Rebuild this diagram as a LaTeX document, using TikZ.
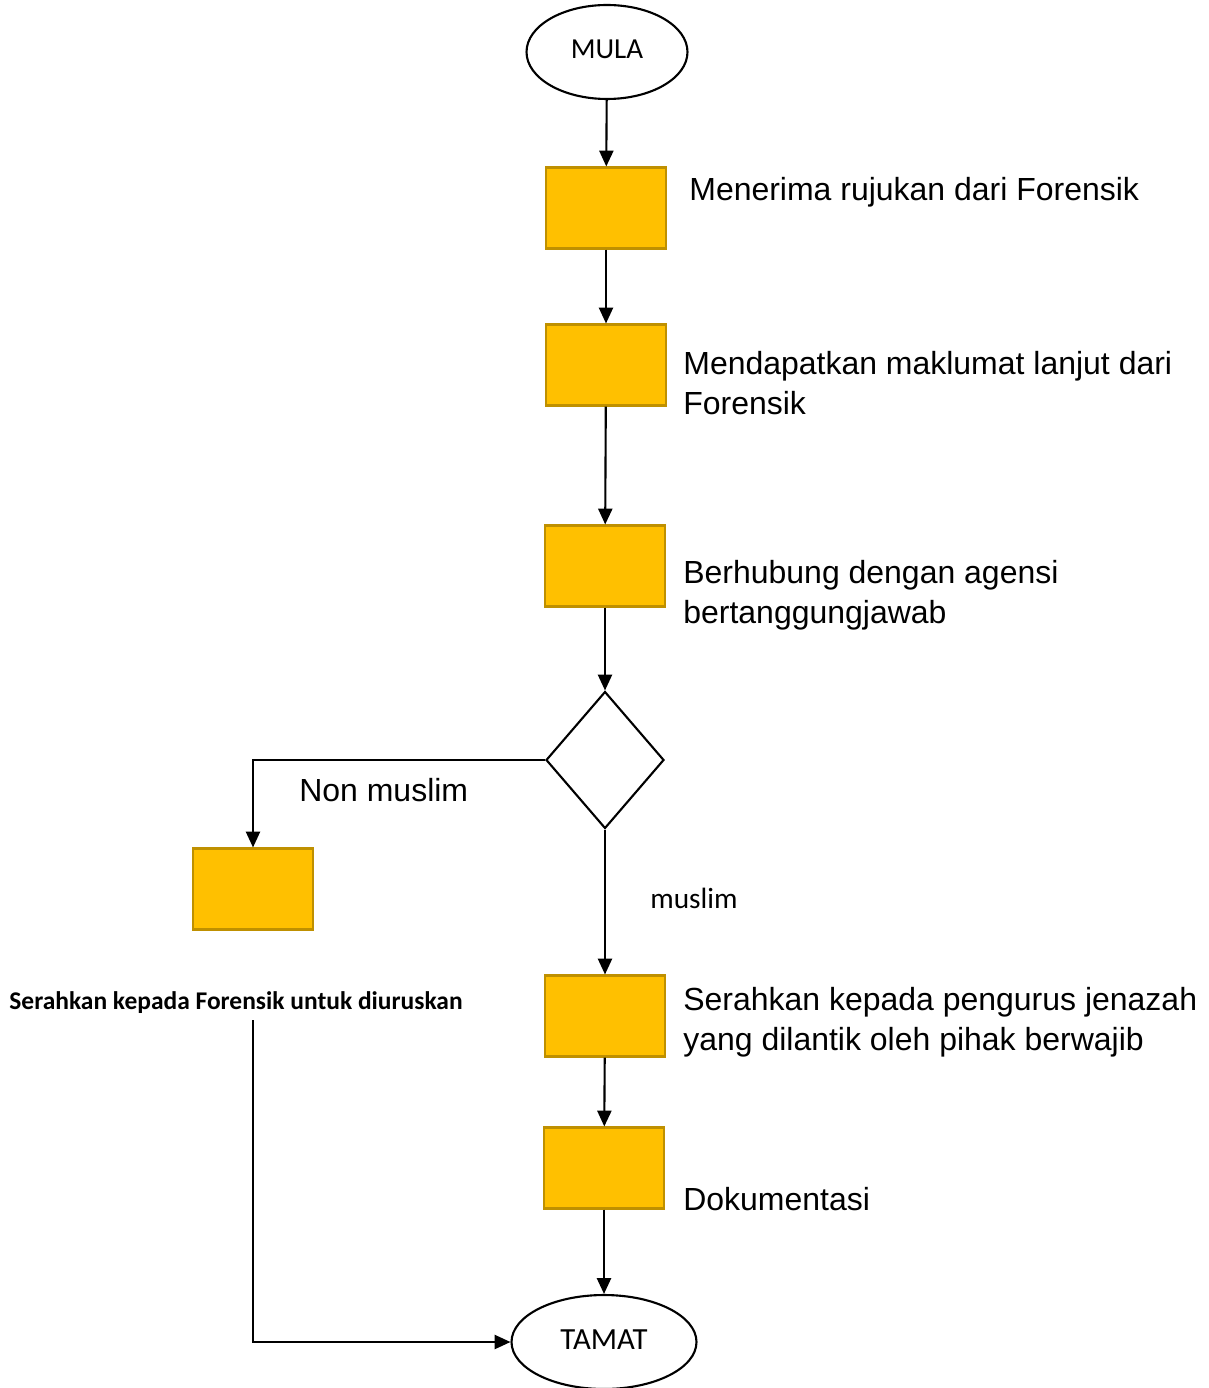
\documentclass[tikz,border=0pt]{standalone}
\usepackage{fontspec}
\setmainfont{Liberation Sans}
\newfontfamily\calfont{Carlito}
\usepackage{xcolor}
\usetikzlibrary{arrows.meta,positioning,shapes.geometric}
\definecolor{boxgold}{HTML}{FFC000}
\definecolor{boxedge}{HTML}{BF9000}

\begin{document}
\begin{tikzpicture}[x=0.02cm, y=-0.02cm, >={Triangle[length=9pt,width=8pt]}]
  \tikzset{stepbox/.style={rectangle, draw=boxedge, fill=boxgold, line width=1.2pt, minimum width=2.4cm, minimum height=1.62cm, inner sep=0pt},
    terminal/.style={ellipse, draw, line width=1.2pt, minimum width=#1, minimum height=1.88cm, inner sep=0pt},
    decide/.style={diamond, draw, line width=1.2pt, minimum width=2.36cm, minimum height=2.74cm, inner sep=0pt, aspect=0.86},
    note/.style={anchor=west, align=left, inner sep=0pt, font=\fontsize{18.2}{22.8}\selectfont},
    flow/.style={->, line width=1.2pt}}
  \useasboundingbox (0,0) rectangle (1208,1388);
  \node[terminal=3.22cm, font=\calfont\fontsize{16.5}{18}\selectfont, text depth=0.1cm] (mula) at (607,52) {MULA};
  \node[stepbox] (s1) at (606,208) {};
  \node[stepbox] (s2) at (606,365) {};
  \node[stepbox] (s3) at (605,566) {};
  \node[decide] (dec) at (605,760) {};
  \node[stepbox] (nm) at (253,889) {};
  \node[stepbox] (s4) at (605,1016) {};
  \node[stepbox] (s5) at (604,1168) {};
  \node[terminal=3.7cm, font=\calfont\fontsize{17.5}{19}\selectfont, text depth=0.1cm] (tamat) at (604,1342) {TAMAT};
  % labels
  \node[note] (l1) at (689,192) {Menerima rujukan dari Forensik};
  \node[note] (l2) at (683,383) {Mendapatkan maklumat lanjut dari\\Forensik};
  \node[note] (l3) at (683,595) {Berhubung dengan agensi\\bertanggungjawab};
  \node[note] (l4) at (683,1022) {Serahkan kepada pengurus jenazah\\yang dilantik oleh pihak berwajib};
  \node[note] (l5) at (683,1199) {Dokumentasi};
  \node[note] (lnon) at (299,790) {Non muslim};
  \node[anchor=west, inner sep=0pt, font=\calfont\fontsize{16.7}{18}\selectfont] (lmus) at (650,898) {muslim};
  \node[inner sep=0pt, font=\calfont\bfseries\fontsize{14.5}{16}\selectfont] (serah) at (236,1003) {Serahkan kepada Forensik untuk diuruskan};
  % connectors
  \draw[flow] (mula) -- (s1);
  \draw[flow] (s1) -- (s2);
  \draw[flow] (s2) -- (s3);
  \draw[flow] (s3) -- (dec.north);
  \draw[flow] (dec.west) -| (nm.north);
  \draw[flow] (dec.south) -- (s4);
  \draw[flow] (s4) -- (s5);
  \draw[flow] (s5) -- (tamat);
  \draw[flow] ([yshift=-0.12cm]serah.south -| nm) |- (tamat.west);
\end{tikzpicture}
\end{document}
